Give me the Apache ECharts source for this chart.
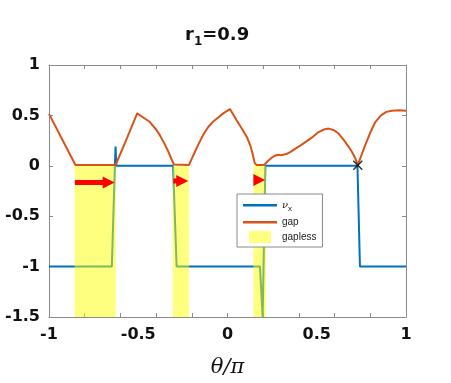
<!DOCTYPE html>
<html>
<head>
<meta charset="utf-8">
<title>r1=0.9</title>
<script src="https://cdn.jsdelivr.net/npm/echarts@6/dist/echarts.min.js"></script>
<style>
  html, body { margin: 0; padding: 0; background: #fff; }
  #chart { width: 451px; height: 383px; }
</style>
</head>
<body>
<div id="chart"></div>
<script>
// nu_x (topological index) vs theta/pi
const nuX = [
  [-1, -1], [-0.648, -1], [-0.631, 0], [-0.627, 0.19], [-0.623, 0],
  [-0.305, 0], [-0.285, -1], [0.182, -1], [0.197, -1.5], [0.212, 0],
  [0.728, 0], [0.742, -1], [1, -1]
]

// band gap vs theta/pi
const gap = [
  [-1, 0.515], [-0.93, 0.275], [-0.852, 0.008], [-0.75, 0.008], [-0.627, 0.008],
  [-0.566, 0.262], [-0.506, 0.52], [-0.47, 0.477], [-0.435, 0.434], [-0.4, 0.36],
  [-0.379, 0.304], [-0.355, 0.225], [-0.332, 0.143], [-0.315, 0.07], [-0.3, 0.013],
  [-0.295, 0.008], [-0.216, 0.008], [-0.19, 0.11], [-0.164, 0.21], [-0.135, 0.31],
  [-0.108, 0.385], [-0.08, 0.44], [-0.052, 0.48], [-0.02, 0.525], [0.014, 0.563],
  [0.05, 0.455], [0.08, 0.37], [0.11, 0.28], [0.13, 0.19], [0.142, 0.11],
  [0.152, 0.03], [0.162, 0.008], [0.205, 0.008], [0.228, 0.05], [0.246, 0.078],
  [0.265, 0.1], [0.283, 0.11], [0.3, 0.105], [0.311, 0.1], [0.335, 0.12],
  [0.358, 0.143], [0.385, 0.175], [0.414, 0.207], [0.452, 0.255], [0.48, 0.29],
  [0.51, 0.335], [0.54, 0.36], [0.566, 0.369], [0.595, 0.355], [0.622, 0.32],
  [0.65, 0.26], [0.678, 0.191], [0.7, 0.13], [0.715, 0.078], [0.73, 0.007],
  [0.745, 0.08], [0.772, 0.207], [0.8, 0.33], [0.828, 0.434], [0.86, 0.5],
  [0.89, 0.535], [0.921, 0.547], [0.96, 0.55], [1, 0.545]
]

// gapless theta ranges [from, to]
const gapless = [[-0.856, -0.626], [-0.307, -0.216], [0.145, 0.216]]

// red arrows [tail x, tip x, y]
const arrows = [[-0.855, -0.632, -0.165], [-0.304, -0.22, -0.15], [0.145, 0.21, -0.14]]

// gap closing point
const closePoint = [[0.73, 0.005]]

const xTicks = [-1, -0.8, -0.6, -0.4, -0.2, 0, 0.2, 0.4, 0.6, 0.8, 1]
const xLabels = [-1, -0.5, 0, 0.5, 1]

const axisColor = '#8a8a8a'
const labelFont = 'DejaVu Sans'
const chart = echarts.init(document.getElementById('chart'))

const xAxisBase = {
  type: 'value',
  min: -1,
  max: 1,
  splitLine: { show: false },
  axisLine: { onZero: false, lineStyle: { color: axisColor, width: 1 } },
  axisTick: { inside: true, length: 4, customValues: xTicks, lineStyle: { color: axisColor } }
}

const yAxisBase = {
  type: 'value',
  min: -1.5,
  max: 1,
  interval: 0.5,
  splitLine: { show: false },
  axisLine: { onZero: false, lineStyle: { color: axisColor, width: 1 } },
  axisTick: { inside: true, length: 4, lineStyle: { color: axisColor } }
}

// legend line icon: thin bar inside a 34x12 box
const lineIcon = 'path://M0,0M0,5h34v2.4h-34zM34,12'

const option = {
  animation: false,
  title: {
    text: '{r|r}{s|1}{e|=0.9}',
    left: 180,
    top: 18,
    textStyle: {
      rich: {
        r: { fontFamily: labelFont, fontWeight: 'bold', fontSize: 18, color: '#111' },
        s: { fontFamily: labelFont, fontWeight: 'bold', fontSize: 12, color: '#111', verticalAlign: 'bottom', padding: [13, 0, 0, 0] },
        e: { fontFamily: labelFont, fontWeight: 'bold', fontSize: 18, color: '#111' }
      }
    }
  },
  grid: { left: 49, right: 45, top: 65, bottom: 60, containLabel: false },
  legend: {
    orient: 'vertical',
    left: 237,
    top: 194,
    padding: [5, 6, 4, 6],
    itemGap: 3,
    itemWidth: 34,
    itemHeight: 12,
    backgroundColor: '#fff',
    borderColor: axisColor,
    borderWidth: 1,
    textStyle: {
      fontFamily: 'Liberation Sans',
      fontSize: 10,
      color: '#222',
      rich: {
        nu: { fontFamily: 'DejaVu Serif', fontStyle: 'italic', fontSize: 10, color: '#222' },
        sub: { fontFamily: 'Liberation Sans', fontSize: 8, color: '#222', verticalAlign: 'bottom', padding: [8, 0, 0, 0] }
      }
    },
    formatter: function (name) {
      return name === 'nu' ? '{nu|ν}{sub|x}' : name
    },
    data: [
      { name: 'nu', icon: lineIcon },
      { name: 'gap', icon: lineIcon },
      { name: 'gapless', icon: 'path://M0,0M6,0h22v12h-22zM34,12' }
    ]
  },
  xAxis: [
    Object.assign({}, xAxisBase, {
      position: 'bottom',
      name: 'θ/π',
      nameLocation: 'middle',
      nameGap: 40,
      nameTextStyle: { fontFamily: 'DejaVu Serif', fontStyle: 'italic', fontSize: 21, color: '#111' },
      axisLabel: {
        customValues: xLabels,
        margin: 10,
        fontFamily: labelFont,
        fontWeight: 'bold',
        fontSize: 16,
        color: '#111'
      }
    }),
    Object.assign({}, xAxisBase, {
      position: 'top',
      axisLabel: { show: false }
    })
  ],
  yAxis: [
    Object.assign({}, yAxisBase, {
      position: 'left',
      axisLabel: {
        margin: 9,
        fontFamily: labelFont,
        fontWeight: 'bold',
        fontSize: 16,
        color: '#111'
      }
    }),
    Object.assign({}, yAxisBase, {
      position: 'right',
      axisLabel: { show: false }
    })
  ],
  series: [
    {
      name: 'nu',
      type: 'line',
      data: nuX,
      symbol: 'none',
      z: 2,
      lineStyle: { color: '#0072BD', width: 2 },
      itemStyle: { color: '#0072BD' }
    },
    {
      name: 'gapless',
      type: 'custom',
      data: gapless,
      encode: { x: [0, 1] },
      z: 3,
      itemStyle: { color: 'rgba(255, 255, 0, 0.5)' },
      renderItem: function (params, api) {
        const p1 = api.coord([api.value(0), 0])
        const p2 = api.coord([api.value(1), -1.5])
        return {
          type: 'rect',
          shape: { x: p1[0], y: p1[1], width: p2[0] - p1[0], height: p2[1] - p1[1] },
          style: { fill: 'rgba(255, 255, 0, 0.5)' }
        }
      }
    },
    {
      name: 'gap',
      type: 'line',
      data: gap,
      symbol: 'none',
      z: 4,
      lineStyle: { color: '#D95319', width: 2 },
      itemStyle: { color: '#D95319' }
    },
    {
      name: 'arrows',
      type: 'custom',
      data: arrows,
      encode: { x: [0, 1], y: 2 },
      z: 5,
      renderItem: function (params, api) {
        const tail = api.coord([api.value(0), api.value(2)])
        const tip = api.coord([api.value(1), api.value(2)])
        const headLen = 12
        const headHalf = 6
        const shaftHalf = 2.5
        const hx = Math.max(tail[0], tip[0] - headLen)
        const y = tip[1]
        return {
          type: 'polygon',
          shape: {
            points: [
              [tail[0], y - shaftHalf], [hx, y - shaftHalf], [hx, y - headHalf],
              [tip[0], y], [hx, y + headHalf], [hx, y + shaftHalf], [tail[0], y + shaftHalf]
            ]
          },
          style: { fill: '#ff0000' }
        }
      }
    },
    {
      name: 'close',
      type: 'scatter',
      data: closePoint,
      z: 6,
      symbol: 'path://M0,0L10,10M10,0L0,10',
      symbolSize: 9,
      itemStyle: { color: 'none', borderColor: '#000', borderWidth: 1.5 }
    }
  ]
}

chart.setOption(option)
</script>
</body>
</html>
